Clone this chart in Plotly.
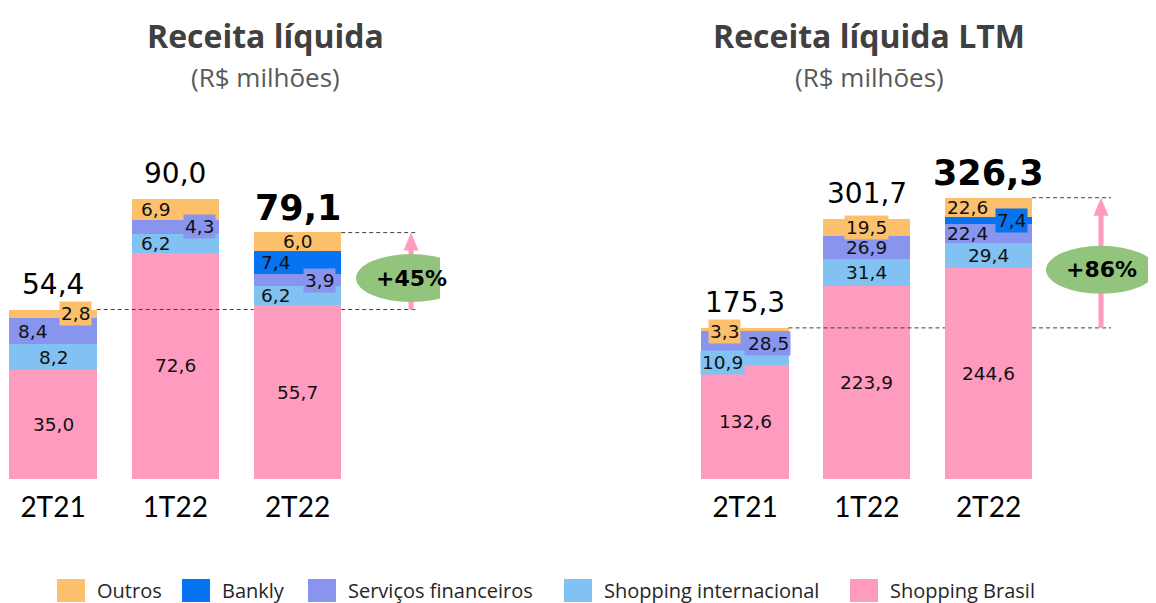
import plotly.graph_objects as go

CATEGORIES = ["2T21", "1T22", "2T22"]
SERIES = ["Shopping Brasil", "Shopping internacional", "Serviços financeiros", "Bankly", "Outros"]
LEGEND_ORDER = ["Outros", "Bankly", "Serviços financeiros", "Shopping internacional", "Shopping Brasil"]

# Receita líquida do trimestre (R$ milhões)
SHOPPING_BRASIL = [35.0, 72.6, 55.7]
SHOPPING_INTERNACIONAL = [8.2, 6.2, 6.2]
SERVICOS_FINANCEIROS = [8.4, 4.3, 3.9]
BANKLY = [0.0, 0.0, 7.4]
OUTROS = [2.8, 6.9, 6.0]
TOTAL = [54.4, 90.0, 79.1]
GROWTH = "+45%"

# Receita líquida LTM (R$ milhões)
SHOPPING_BRASIL_LTM = [132.6, 223.9, 244.6]
SHOPPING_INTERNACIONAL_LTM = [10.9, 31.4, 29.4]
SERVICOS_FINANCEIROS_LTM = [28.5, 26.9, 22.4]
BANKLY_LTM = [0.0, 0.0, 7.4]
OUTROS_LTM = [3.3, 19.5, 22.6]
TOTAL_LTM = [175.3, 301.7, 326.3]
GROWTH_LTM = "+86%"

COLORS = {
    "Shopping Brasil": "#FF9BBF",
    "Shopping internacional": "#81C2F2",
    "Serviços financeiros": "#8894EE",
    "Bankly": "#0573F2",
    "Outros": "#FCBF6B",
}
GREEN = "#93C47D"
ARROW = "#FF9BBF"
DARK = "#404040"
NUM_FONT = "DejaVu Sans"
TXT_FONT = "Lato"
TITLE_FONT = "Open Sans"

W, H = 1156, 603
PAGE_OFFSET = 8  # the html body margin shifts the figure by this much
BASE, TOP = 479, 129  # page pixel rows of the zero line and top of plot area


def px_x(p):
    return (p - PAGE_OFFSET) / W


def px_y(p):
    return (H - (p - PAGE_OFFSET)) / H


def fmt(v):
    return f"{v:.1f}".replace(".", ",")


# label placement per series (pixel x-shift) and which labels sit on a box
PANELS = [
    dict(
        x="x", y="y", c0=53, step=122.25, scale=3.115, dom=(8, 440),
        title="Receita líquida", title_px=265, arrow_px=411, dash_end_px=418,
        values=[SHOPPING_BRASIL, SHOPPING_INTERNACIONAL, SERVICOS_FINANCEIROS, BANKLY, OUTROS],
        totals=TOTAL, growth=GROWTH,
        xshift=[[0, 0, 0], [0, -20, -22], [-21, 24, 22], [0, 0, -22], [22, -20, 0]],
        yshift=[[0, 0, 0], [0, 0, 0], [0, 0, 0], [0, 0, 0], [0, 0, 0]],
        boxed=[(4, 0), (2, 1), (2, 2)],
    ),
    dict(
        x="x2", y="y2", c0=745, step=121.75, scale=0.862, dom=(600, W + PAGE_OFFSET),
        title="Receita líquida LTM", title_px=869, arrow_px=1101, dash_end_px=1111,
        values=[SHOPPING_BRASIL_LTM, SHOPPING_INTERNACIONAL_LTM, SERVICOS_FINANCEIROS_LTM,
                BANKLY_LTM, OUTROS_LTM],
        totals=TOTAL_LTM, growth=GROWTH_LTM,
        xshift=[[0, 0, 0], [-23, 0, 0], [23, 0, -21], [0, 0, 23], [-21, 0, -21]],
        yshift=[[0, 0, 0], [-2, 0, 0], [0, 0, 0], [0, 0, 0], [-2, 0, 0]],
        boxed=[(4, 0), (2, 0), (1, 0), (4, 1), (3, 2)],
    ),
]

BAR_W = 0.715
xs = list(range(len(CATEGORIES)))

fig = go.Figure()
shapes, annotations = [], []

for p in PANELS:
    # stacked bars
    for name, vals in zip(SERIES, p["values"]):
        fig.add_trace(go.Bar(
            x=xs, y=vals, name=name, width=BAR_W, marker_color=COLORS[name],
            marker_line_width=0, xaxis=p["x"], yaxis=p["y"],
            showlegend=False, hoverinfo="skip",
        ))

    # segment labels
    base = [0.0] * len(xs)
    for k, (name, vals) in enumerate(zip(SERIES, p["values"])):
        for i, v in enumerate(vals):
            if v > 0:
                boxed = (k, i) in p["boxed"]
                annotations.append(dict(
                    x=i, y=base[i] + v / 2, xref=p["x"], yref=p["y"],
                    text=fmt(v), showarrow=False,
                    xshift=p["xshift"][k][i], yshift=p["yshift"][k][i],
                    font=dict(family=NUM_FONT, size=18.5, color="#111111"),
                    bgcolor=COLORS[name] if boxed else None, borderpad=1,
                ))
            base[i] += v

    # totals above bars
    last = len(xs) - 1
    for i, t in enumerate(p["totals"]):
        annotations.append(dict(
            x=i, y=t, xref=p["x"], yref=p["y"], text=f"<b>{fmt(t)}</b>" if i == last else fmt(t),
            showarrow=False, yanchor="middle", yshift=25,
            font=dict(family=NUM_FONT, size=35 if i == last else 28, color="black"),
        ))

    # dashed reference lines and growth arrow
    t0, t1 = p["totals"][0], p["totals"][last]
    end = (p["dash_end_px"] - p["c0"]) / p["step"]
    ax = (p["arrow_px"] - p["c0"]) / p["step"]
    dash = dict(color=DARK, width=1, dash="4px,3px")
    for x0, x1, y in [(BAR_W / 2, last - BAR_W / 2, t0), (last + BAR_W / 2, end, t0),
                      (last + BAR_W / 2, end, t1)]:
        shapes.append(dict(type="line", xref=p["x"], yref=p["y"], x0=x0, x1=x1, y0=y, y1=y, line=dash))

    head_len = 18 / p["scale"]
    head_w = 7.5 / p["step"]
    shapes.append(dict(type="line", xref=p["x"], yref=p["y"], x0=ax, x1=ax, y0=t0, y1=t1 - head_len + 1,
                       line=dict(color=ARROW, width=5)))
    shapes.append(dict(
        type="path", xref=p["x"], yref=p["y"], fillcolor=ARROW, line=dict(width=0),
        path=f"M{ax - head_w},{t1 - head_len} L{ax + head_w},{t1 - head_len} L{ax},{t1} Z",
    ))
    mid = (t0 + t1) / 2
    shapes.append(dict(
        type="circle", xref=p["x"], yref=p["y"], xsizemode="pixel", ysizemode="pixel",
        xanchor=ax, yanchor=mid, x0=-55, x1=55, y0=-31, y1=17,
        fillcolor=GREEN, line=dict(width=0),
    ))
    annotations.append(dict(
        x=ax, y=mid, xref=p["x"], yref=p["y"], text=f"<b>{p['growth']}</b>", showarrow=False,
        yshift=-7, font=dict(family=NUM_FONT, size=22, color="black"),
    ))

    # titles
    annotations.append(dict(
        x=px_x(p["title_px"]), y=px_y(35), xref="paper", yref="paper", showarrow=False,
        xanchor="center", yanchor="middle",
        text=f"<b>{p['title']}</b>", font=dict(family=TITLE_FONT, size=32, color=DARK),
    ))
    annotations.append(dict(
        x=px_x(p["title_px"]), y=px_y(77), xref="paper", yref="paper", showarrow=False,
        xanchor="center", yanchor="middle",
        text="(R$ milhões)", font=dict(family=TITLE_FONT, size=26, color="#595959"),
    ))

# legend drawn by hand to get the large square swatches
LEGEND_SWATCH_PX = [57, 182, 308, 564, 850]
for name, sx in zip(LEGEND_ORDER, LEGEND_SWATCH_PX):
    shapes.append(dict(type="rect", xref="paper", yref="paper",
                       x0=px_x(sx), x1=px_x(sx + 28), y0=px_y(602), y1=px_y(579),
                       fillcolor=COLORS[name], line=dict(width=0)))
    annotations.append(dict(
        x=px_x(sx + 38), y=px_y(590), xref="paper", yref="paper", xanchor="left",
        yanchor="middle", showarrow=False, text=name,
        font=dict(family=TITLE_FONT, size=20, color="#262626"),
    ))

axis_common = dict(
    tickmode="array", tickvals=xs, ticktext=CATEGORIES, showgrid=False, zeroline=False,
    showline=False, ticks="", tickfont=dict(family=TXT_FONT, size=28, color="black"),
    ticklabelstandoff=9,
)
y_common = dict(visible=False, showgrid=False, zeroline=False)
left, right = PANELS
fig.update_layout(
    width=W, height=H, barmode="stack", bargap=0,
    margin=dict(l=0, r=0, t=0, b=0),
    paper_bgcolor="white", plot_bgcolor="white",
    xaxis=dict(domain=[px_x(left["dom"][0]), px_x(left["dom"][1])],
               range=[(left["dom"][0] - left["c0"]) / left["step"],
                      (left["dom"][1] - left["c0"]) / left["step"]], **axis_common),
    xaxis2=dict(domain=[px_x(right["dom"][0]), px_x(right["dom"][1])],
                range=[(right["dom"][0] - right["c0"]) / right["step"],
                       (right["dom"][1] - right["c0"]) / right["step"]], anchor="y2", **axis_common),
    yaxis=dict(domain=[px_y(BASE), px_y(TOP)], range=[0, (BASE - TOP) / left["scale"]], **y_common),
    yaxis2=dict(domain=[px_y(BASE), px_y(TOP)], range=[0, (BASE - TOP) / right["scale"]],
                anchor="x2", **y_common),
    shapes=shapes, annotations=annotations, showlegend=False,
)

fig.write_html("out.html")
